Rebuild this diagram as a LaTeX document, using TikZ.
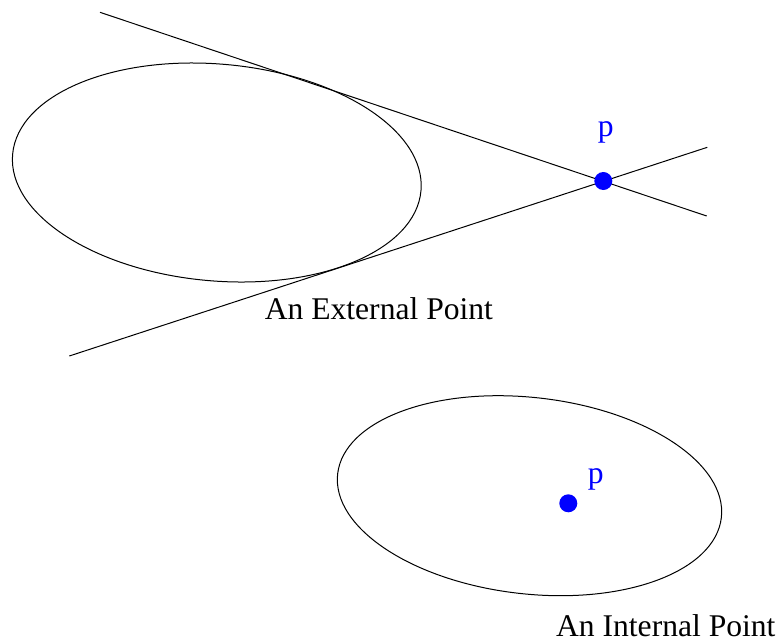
\documentclass[tikz,border=0pt]{standalone}
\usepackage{fontspec}
\setmainfont{Liberation Serif}
\usetikzlibrary{positioning}

\begin{document}
\begin{tikzpicture}[x=0.5pt,y=-0.5pt,line width=0.5pt,
  dot/.style={circle,fill=blue,inner sep=0pt,minimum size=9pt},
  plabel/.style={text=blue,font=\fontsize{15.8}{19}\selectfont,anchor=base,inner sep=0pt},
  caption/.style={font=\fontsize{15.8}{19}\selectfont,anchor=base,inner sep=0pt}]
\useasboundingbox (0,0) rectangle (776,643);
% external point
\draw[rotate around={-5.1:(216.8,172.5)}] (216.8,172.5) ellipse [x radius=205, y radius=108.4];
\coordinate (ua) at (100,12.3);
\coordinate (ub) at (706.7,216);
\coordinate (la) at (69.3,356);
\coordinate (lb) at (707.3,147.3);
\draw (ua) -- (ub);
\draw (la) -- (lb);
\node[dot] (p1) at (603.3,181) {};
\node[plabel] (p1lbl) at (605.8,136) {p};
\node[caption] (ext) at (378.9,319.3) {An External Point};
% internal point
\draw[rotate around={-6.5:(529.5,495.7)}] (529.5,495.7) ellipse [x radius=193.1, y radius=98.2];
\node[dot] (p2) at (568.3,503.3) {};
\node[plabel] (p2lbl) at (595.8,483.3) {p};
\node[caption] (int) at (665.8,636.7) {An Internal Point};
\end{tikzpicture}
\end{document}
